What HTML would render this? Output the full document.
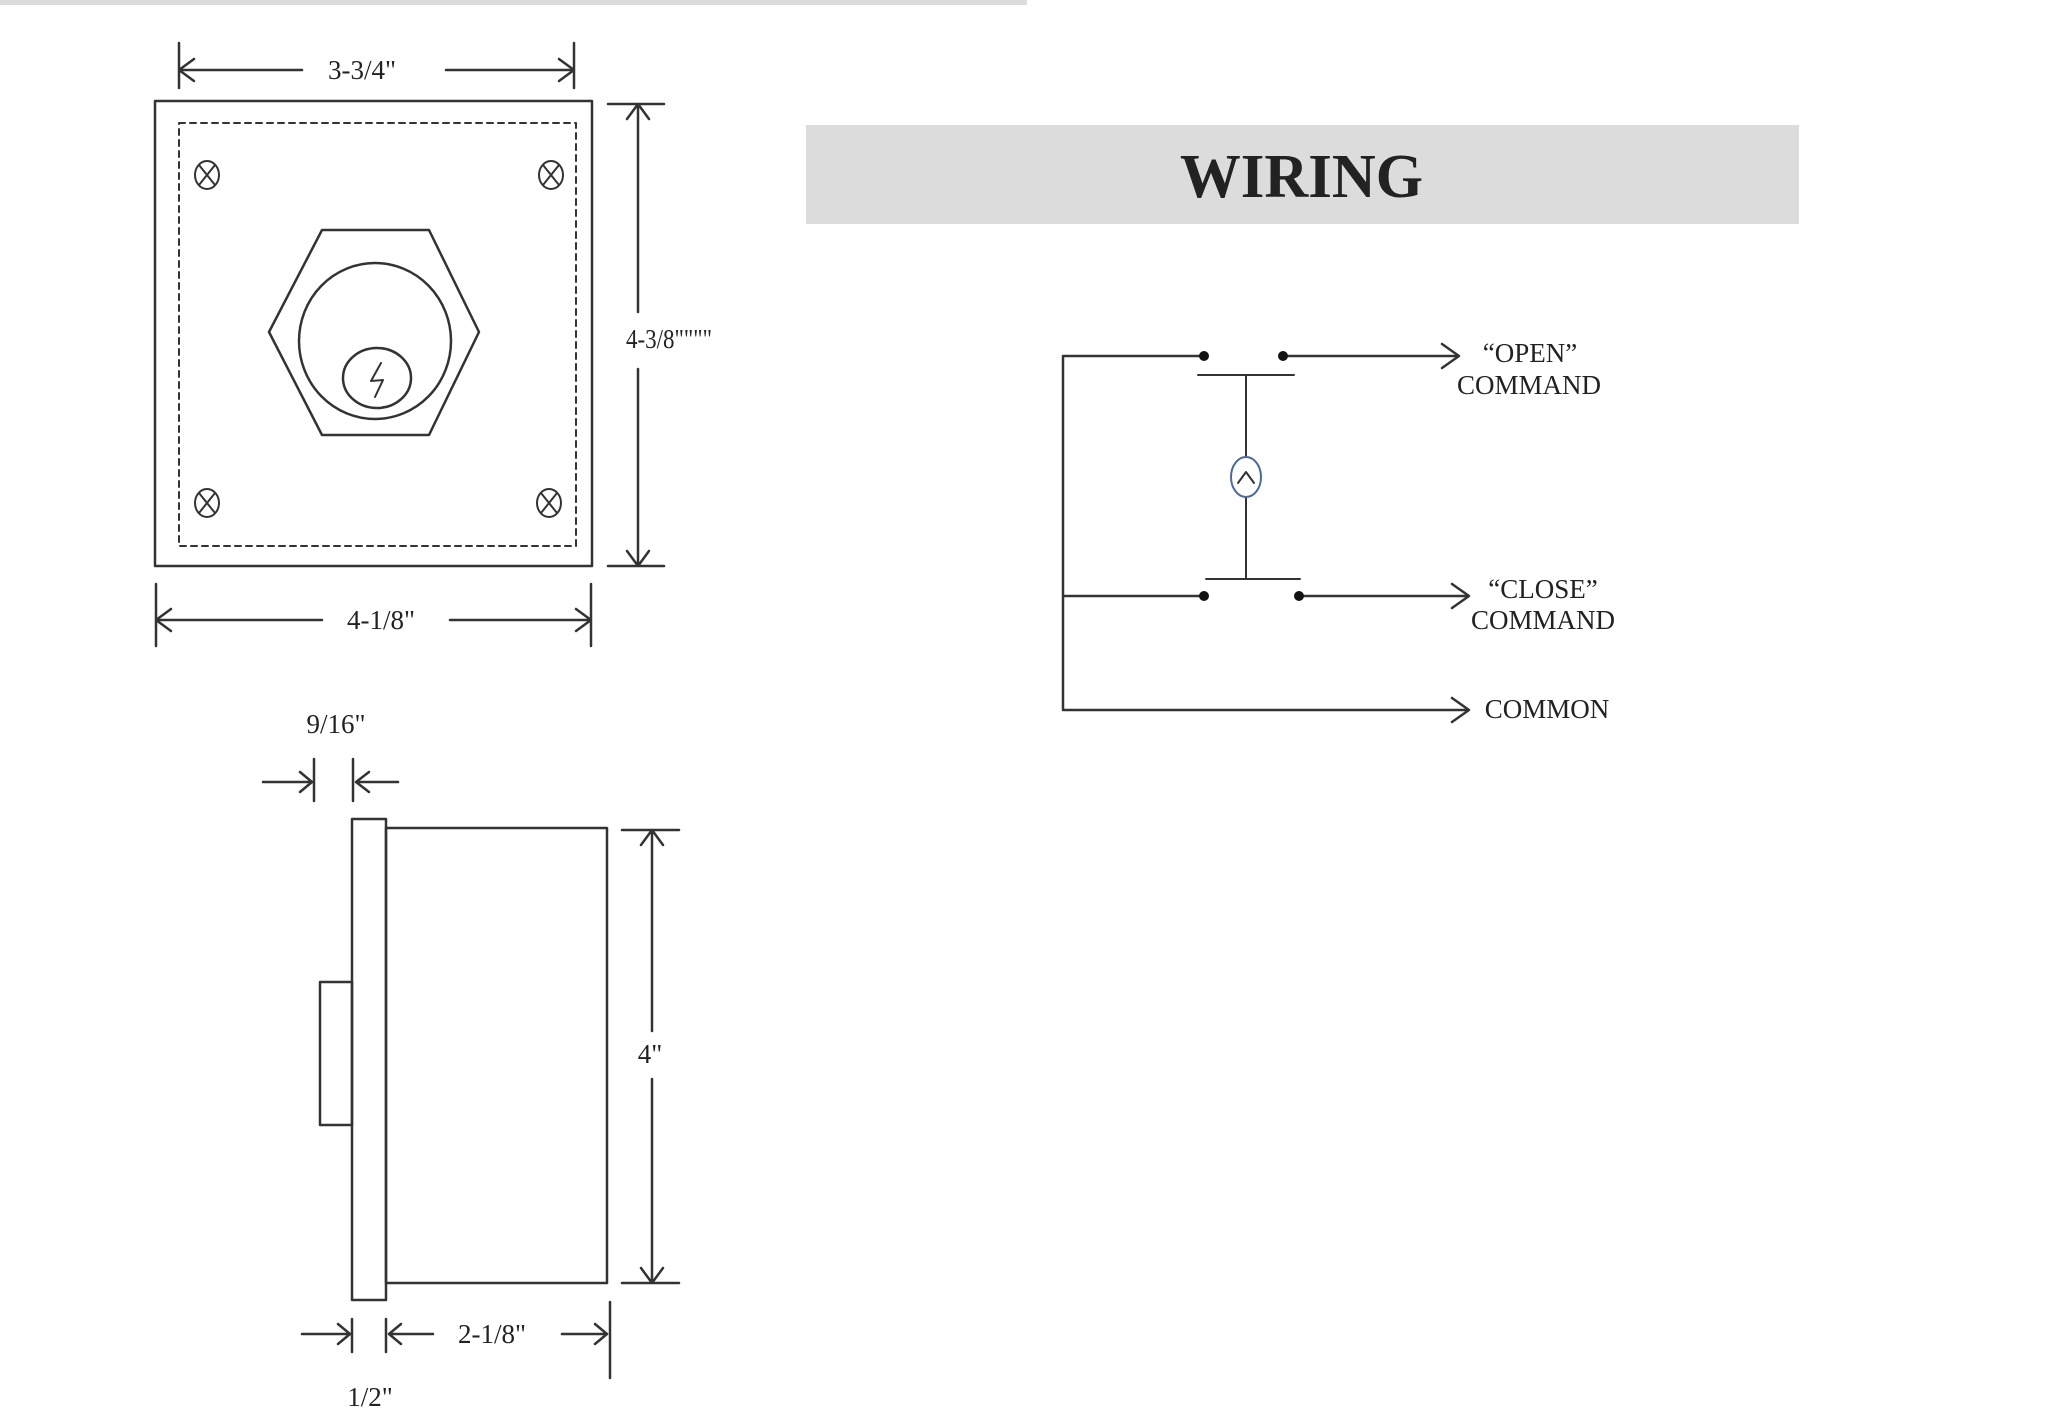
<!DOCTYPE html>
<html><head><meta charset="utf-8"><style>
html,body{margin:0;padding:0;background:#fff;}
svg{display:block;}
text{font-family:"Liberation Serif",serif;fill:#222;}
</style></head><body>
<svg width="2048" height="1421" viewBox="0 0 2048 1421" xmlns="http://www.w3.org/2000/svg">
<rect x="0" y="0" width="1027" height="5" fill="#dcdcdc"/>
<rect x="806" y="125" width="993" height="99" fill="#dcdcdc"/>
<text x="1180" y="197" font-size="62" font-weight="bold" fill="#111" textLength="243" lengthAdjust="spacingAndGlyphs">WIRING</text>

<g stroke="#333" stroke-width="2.5" fill="none" stroke-linecap="round" stroke-linejoin="round">
<rect x="155" y="101" width="437" height="465"/>
<rect x="179" y="123" width="397" height="423" stroke-dasharray="6,5" stroke-width="2"/>
<g stroke-width="2">
<ellipse cx="207" cy="175" rx="12" ry="14"/><path d="M199 165L215 185M215 165L199 185"/>
<ellipse cx="551" cy="175" rx="12" ry="14"/><path d="M543 165L559 185M559 165L543 185"/>
<ellipse cx="207" cy="503" rx="12" ry="14"/><path d="M199 493L215 513M215 493L199 513"/>
<ellipse cx="549" cy="503" rx="12" ry="14"/><path d="M541 493L557 513M557 493L541 513"/>
</g>
<polygon points="322,230 429,230 479,332 429,435 322,435 269,332"/>
<ellipse cx="375" cy="341" rx="76" ry="78"/>
<ellipse cx="377" cy="378" rx="34" ry="30"/>
<path d="M381 363L371 381L383 380L375 397" stroke-width="2"/>
<path d="M179 43V88M574 43V88M179 70H302M446 70H574M194 59L179 70L194 81M559 59L574 70L559 81"/>
<path d="M608 104H664M608 566H664M638 104V312M638 369V566M627 119L638 104L649 119M627 551L638 566L649 551"/>
<path d="M156 584V646M591 584V646M156 620H322M450 620H591M171 609L156 620L171 631M576 609L591 620L576 631"/>

<path d="M314 759V801M353 759V801M263 782H311M398 782H356M300 772L312 782L300 792M369 772L356 782L369 792"/>
<rect x="352" y="819" width="34" height="481"/>
<rect x="386" y="828" width="221" height="455"/>
<rect x="320" y="982" width="32" height="143"/>
<path d="M622 830H679M622 1283H679M652 830V1031M652 1079V1283M641 845L652 830L663 845M641 1268L652 1283L663 1268"/>
<path d="M352 1319V1352M386 1319V1352M610 1302V1378M302 1334H350M433 1334H389M562 1334H607M338 1324L350 1334L338 1344M401 1324L389 1334L401 1344M595 1324L607 1334L595 1344"/>

<path d="M1063 356V710M1063 356H1204M1283 356H1458M1063 596H1204M1299 596H1468M1063 710H1468"/>
<path d="M1442 344L1459 356L1442 368M1452 584L1469 596L1452 608M1452 698L1469 710L1452 722"/>
<path d="M1198 375H1294M1206 579H1300M1246 375V457M1246 497V579" stroke-width="2"/>
<path d="M1238 483L1246 472L1254 483" stroke-width="2"/>
</g>
<ellipse cx="1246" cy="477" rx="15" ry="20" fill="none" stroke="#4a6a9a" stroke-width="2"/>
<g fill="#111">
<circle cx="1204" cy="356" r="5"/><circle cx="1283" cy="356" r="5"/>
<circle cx="1204" cy="596" r="5"/><circle cx="1299" cy="596" r="5"/>
</g>

<g font-size="27">
<text x="362" y="79" text-anchor="middle">3-3/4"</text>
<text x="626" y="348" textLength="86" lengthAdjust="spacingAndGlyphs">4-3/8""""</text>
<text x="381" y="629" text-anchor="middle">4-1/8"</text>
<text x="336" y="733" text-anchor="middle">9/16"</text>
<text x="650" y="1063" text-anchor="middle">4"</text>
<text x="492" y="1343" text-anchor="middle">2-1/8"</text>
<text x="370" y="1406" text-anchor="middle">1/2"</text>
</g>
<g font-size="27" text-anchor="middle">
<text x="1530" y="362">“OPEN”</text>
<text x="1529" y="394">COMMAND</text>
<text x="1543" y="598">“CLOSE”</text>
<text x="1543" y="629">COMMAND</text>
<text x="1547" y="718">COMMON</text>
</g>
</svg>
</body></html>
